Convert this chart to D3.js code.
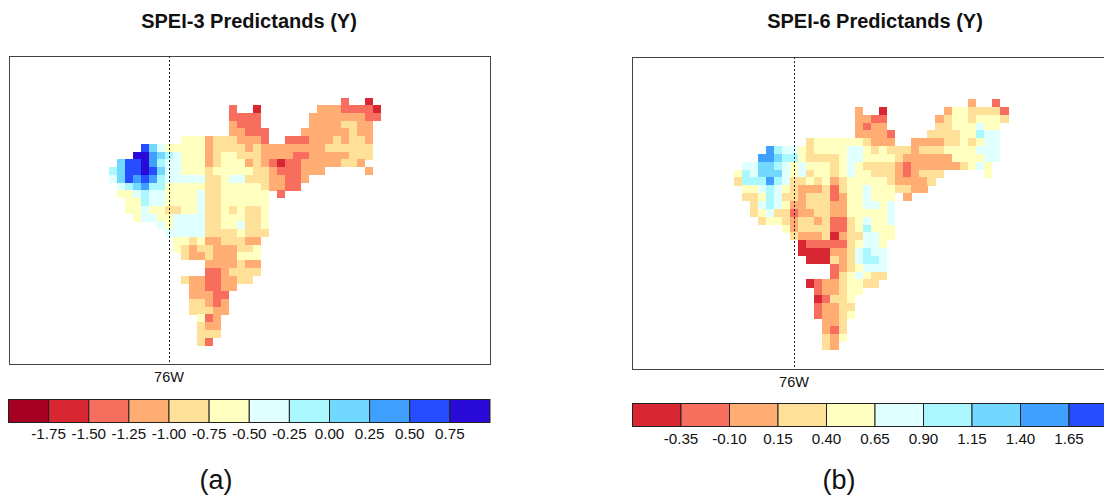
<!DOCTYPE html>
<html>
<head>
<meta charset="utf-8">
<script src="https://cdn.jsdelivr.net/npm/d3@7"></script>
<style>
html, body { margin: 0; padding: 0; background: #fff; overflow: hidden; }
text { font-family: "Liberation Sans", Arial, sans-serif; fill: #111; }
</style>
</head>
<body>
<div id="viz"></div>
<script>
// colour classes, a = driest ... l = wettest. each letter in the grids is one class
var binKeys = "abcdefghijkl".split("");
var binColors = ["#a50021", "#d82632", "#f76d5e", "#ffad72", "#ffe099", "#ffffbf",
                 "#e0ffff", "#aaf7ff", "#72d8ff", "#3fa0ff", "#264dff", "#290ad8"];

var ticksA = ["-1.75", "-1.50", "-1.25", "-1.00", "-0.75", "-0.50", "-0.25", "0.00", "0.25", "0.50", "0.75"];
var ticksB = ["-0.35", "-0.10", "0.15", "0.40", "0.65", "0.90", "1.15", "1.40", "1.65"];
var legendBinsA = binKeys;
var legendBinsB = binKeys.slice(1, 11);

// one string per grid row, one letter per grid column, "." = no data
var gridA = [
  ".............................c..b",
  "...............c..b.......dddccccb",
  "...............cccc......dddddddcc",
  "...............dccc......ddddeedd",
  "...............ddccc....ddddddedd",
  ".........fffdeeedddc..cccdddedeed",
  "....kigfffffdeeeededdddddddeeeeee",
  "...lljihgfffdeffeeeddddccdddddeee",
  ".ikkljhggfffdefffdedcbccdddddeed",
  "hikklkiggfffefffffeedcccddd.....d",
  "gikjkjhgggggeefggeeeddccd",
  ".ghijhhfffffeefffffeddcc",
  ".ffghggffffgeeffffff.c",
  "..ffhggffffgeeffffff",
  "..ffgffeeffgeefefeef",
  "...fggffggggeefffeef",
  "......gfggggeeffgeef",
  ".......gggggeeeefeee",
  "........ffefddeeedd",
  "........fedeedddeef",
  ".........eddedddfff",
  "............ddddedd",
  "............ccdeeee",
  ".........eddccddee",
  "..........ddccdd",
  "..........dddcc",
  "..........eedcd",
  "..........eeedd",
  "...........fcd",
  "...........edd",
  "...........eee",
  "...........ec"
];

var gridB = [
  ".............................d..c",
  "...............d..b.......dffeeeec",
  "...............ddcc......deffefffe",
  "...............dcdd......eefffgff",
  "...............ddddc....eeeeffhgg",
  ".........effffffeddd..ddddeefefgg",
  "....jhggfeffffggfefeeedeeeffffggg",
  "...jjihhfeeeefggffffeddddddffffgg",
  ".ggiihgfgfffefgfeeeedcddddddefgf",
  "fhgiiigfgeffefgffeeedcdeee.....f",
  "ehhhjhgeefefdefffffedddde",
  ".ffghgfedddeceffgfffeedd",
  ".eefhgeedeeecdffgfff.d",
  "..eghgfddeeeddffggfg",
  "..efgeecddeeddfffffg",
  "...effedeedeccefgffg",
  "......fdeeeeccefhfff",
  ".......edddebdeeggff",
  "........bcccccefggf",
  "........bbbbddeghgg",
  ".........bbbedeghhg",
  "............cdefggg",
  "............cefgfee",
  ".........bcddeffee",
  "..........cddeff",
  "..........bceef",
  "..........cddee",
  "..........cddef",
  "...........dde",
  "...........dce",
  "...........edf",
  "...........ed"
];

var w = 1104,
    h = 495;

var svg = d3.select("#viz").append("svg")
  .attr("width", w)
  .attr("height", h)
  .style("display", "block");

var color = d3.scaleOrdinal(binKeys, binColors);

function drawPanel (p) {
  var x = d3.scaleLinear().domain([0, 34]).range([p.gridX0, p.gridX1]);
  var y = d3.scaleLinear().domain([0, 32]).range([p.gridY0, p.gridY1]);

  svg.append("text")
    .attr("x", p.titleX)
    .attr("y", 28)
    .attr("text-anchor", "middle")
    .style("font-size", "20px")
    .style("font-weight", "bold")
    .text(p.title);

  // flatten the rows into cells
  var cells = [];
  p.grid.forEach(function (row, r) {
    row.split("").forEach(function (k, c) {
      if (k != ".") cells.push({ r: r, c: c, k: k });
    });
  });

  svg.append("g").selectAll("rect")
    .data(cells)
    .enter().append("rect")
    .attr("x", function (d) { return x(d.c); })
    .attr("y", function (d) { return y(d.r); })
    .attr("width", x(1) - x(0) + 0.3)
    .attr("height", y(1) - y(0) + 0.3)
    .attr("shape-rendering", "crispEdges")
    .attr("fill", function (d) { return color(d.k); });

  svg.append("rect")
    .attr("x", p.left + 0.5)
    .attr("y", p.top + 0.5)
    .attr("width", p.right - p.left)
    .attr("height", p.bottom - p.top)
    .attr("fill", "none")
    .attr("stroke", "#444")
    .attr("stroke-width", 1);

  svg.append("line")
    .attr("x1", p.lonX + 0.5)
    .attr("x2", p.lonX + 0.5)
    .attr("y1", p.top)
    .attr("y2", p.bottom)
    .attr("stroke", "#222")
    .attr("stroke-width", 1)
    .attr("stroke-dasharray", "2,2");

  svg.append("text")
    .attr("x", p.lonX)
    .attr("y", p.bottom + 18)
    .attr("text-anchor", "middle")
    .style("font-size", "14.5px")
    .text("76W");

  // colour bar
  var n = p.bins.length;
  var lx = d3.scaleLinear().domain([0, n]).range([p.legendLeft, p.legendRight]);

  svg.append("g").selectAll("rect")
    .data(p.bins)
    .enter().append("rect")
    .attr("x", function (d, i) { return lx(i) + 0.5; })
    .attr("y", p.legendTop + 0.5)
    .attr("width", lx(1) - lx(0))
    .attr("height", 23)
    .attr("fill", function (d) { return color(d); })
    .attr("stroke", "#222")
    .attr("stroke-width", 1);

  var axis = d3.axisBottom(lx)
    .tickValues(d3.range(1, n))
    .tickFormat(function (d) { return p.ticks[d - 1]; })
    .tickSize(0)
    .tickPadding(p.tickPad);

  var ag = svg.append("g")
    .attr("transform", "translate(0," + (p.legendTop + 24) + ")")
    .call(axis);
  ag.select(".domain").remove();
  ag.selectAll("text")
    .style("font-family", '"Liberation Sans", Arial, sans-serif')
    .style("font-size", "15.2px")
    .attr("fill", "#111");

  svg.append("text")
    .attr("x", p.tagX)
    .attr("y", 489)
    .attr("text-anchor", "middle")
    .style("font-size", "27px")
    .text(p.tag);
}

drawPanel({
  title: "SPEI-3 Predictands (Y)", titleX: 249, tag: "(a)", tagX: 216,
  grid: gridA, bins: legendBinsA, ticks: ticksA,
  left: 9, right: 490, top: 56, bottom: 364, lonX: 169,
  gridX0: 109, gridX1: 381, gridY0: 97.5, gridY1: 345.3,
  legendLeft: 8, legendTop: 399, legendRight: 489.5, tickPad: 5
});

drawPanel({
  title: "SPEI-6 Predictands (Y)", titleX: 875, tag: "(b)", tagX: 839,
  grid: gridB, bins: legendBinsB, ticks: ticksB,
  left: 632, right: 1116, top: 57, bottom: 369, lonX: 794,
  gridX0: 733.5, gridX1: 1008.2, gridY0: 99, gridY1: 350,
  legendLeft: 632, legendTop: 403, legendRight: 1117, tickPad: 6
});
</script>
</body>
</html>
